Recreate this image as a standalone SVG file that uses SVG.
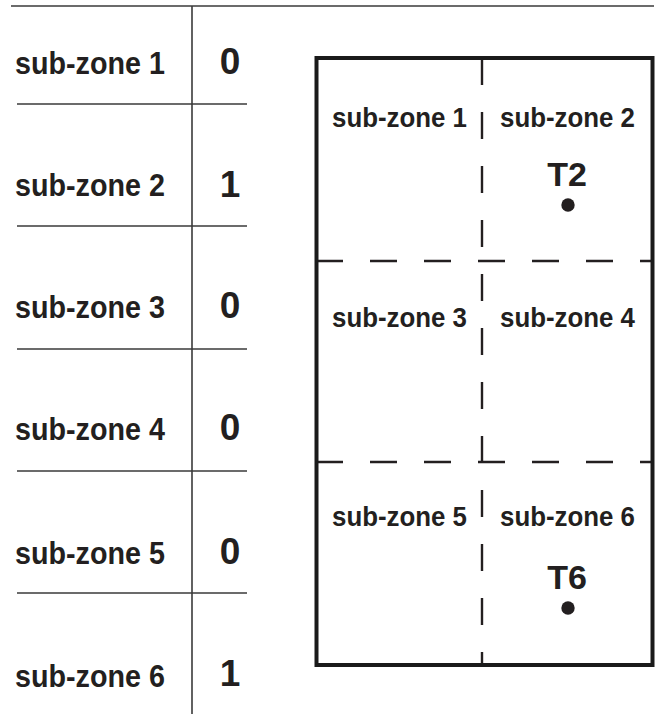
<svg xmlns="http://www.w3.org/2000/svg" width="655" height="714" viewBox="0 0 655 714">
<style>
.lbl{font-family:"Liberation Sans",Arial,sans-serif;font-weight:bold;fill:#231f20}
.big{font-size:30.5px}
.mid{font-size:27px}
.num{font-size:37px;text-anchor:middle}
.tl{font-size:34px;text-anchor:middle}
.thin{stroke:#3a3a3a;stroke-width:1.6;fill:none}
.dash{stroke:#231f20;stroke-width:2.4;stroke-dasharray:27 27;fill:none}
</style>
<rect width="655" height="714" fill="#fff"/>
<g id="table">
<line class="thin" x1="11" y1="6" x2="654" y2="6"/>
<line class="thin" x1="192" y1="6" x2="192" y2="714"/>
<line class="thin" x1="17" y1="104" x2="247" y2="104"/>
<line class="thin" x1="17" y1="226" x2="247" y2="226"/>
<line class="thin" x1="17" y1="349" x2="247" y2="349"/>
<line class="thin" x1="17" y1="471" x2="247" y2="471"/>
<line class="thin" x1="17" y1="593" x2="247" y2="593"/>
</g>
<g id="row1"><text class="lbl big" x="15" y="74" textLength="150" lengthAdjust="spacingAndGlyphs">sub-zone 1</text><text class="lbl num" x="230" y="74">0</text></g>
<g id="row2"><text class="lbl big" x="15" y="196" textLength="150" lengthAdjust="spacingAndGlyphs">sub-zone 2</text><text class="lbl num" x="230" y="197">1</text></g>
<g id="row3"><text class="lbl big" x="15" y="318" textLength="150" lengthAdjust="spacingAndGlyphs">sub-zone 3</text><text class="lbl num" x="230" y="318">0</text></g>
<g id="row4"><text class="lbl big" x="15" y="440" textLength="150" lengthAdjust="spacingAndGlyphs">sub-zone 4</text><text class="lbl num" x="230" y="440">0</text></g>
<g id="row5"><text class="lbl big" x="15" y="564" textLength="150" lengthAdjust="spacingAndGlyphs">sub-zone 5</text><text class="lbl num" x="230" y="564">0</text></g>
<g id="row6"><text class="lbl big" x="15" y="687" textLength="150" lengthAdjust="spacingAndGlyphs">sub-zone 6</text><text class="lbl num" x="230" y="686">1</text></g>
<g id="zone-map">
<line class="dash" x1="482" y1="58" x2="482" y2="665"/>
<line class="dash" x1="316" y1="261" x2="652" y2="261"/>
<line class="dash" x1="316" y1="462" x2="652" y2="462"/>
<rect x="316.5" y="58" width="336" height="607" fill="none" stroke="#1a1a1a" stroke-width="4"/>
</g>
<g id="cell1"><text class="lbl mid" x="332" y="127" textLength="135" lengthAdjust="spacingAndGlyphs">sub-zone 1</text></g>
<g id="cell2"><text class="lbl mid" x="500" y="127" textLength="135" lengthAdjust="spacingAndGlyphs">sub-zone 2</text></g>
<g id="cell3"><text class="lbl mid" x="332" y="327" textLength="135" lengthAdjust="spacingAndGlyphs">sub-zone 3</text></g>
<g id="cell4"><text class="lbl mid" x="500" y="327" textLength="135" lengthAdjust="spacingAndGlyphs">sub-zone 4</text></g>
<g id="cell5"><text class="lbl mid" x="332" y="526" textLength="135" lengthAdjust="spacingAndGlyphs">sub-zone 5</text></g>
<g id="cell6"><text class="lbl mid" x="500" y="526" textLength="135" lengthAdjust="spacingAndGlyphs">sub-zone 6</text></g>
<g id="T2"><text class="lbl tl" x="567" y="186">T2</text><circle cx="568" cy="205" r="6.7" fill="#231f20"/></g>
<g id="T6"><text class="lbl tl" x="567" y="589">T6</text><circle cx="568" cy="608" r="6.7" fill="#231f20"/></g>
</svg>
